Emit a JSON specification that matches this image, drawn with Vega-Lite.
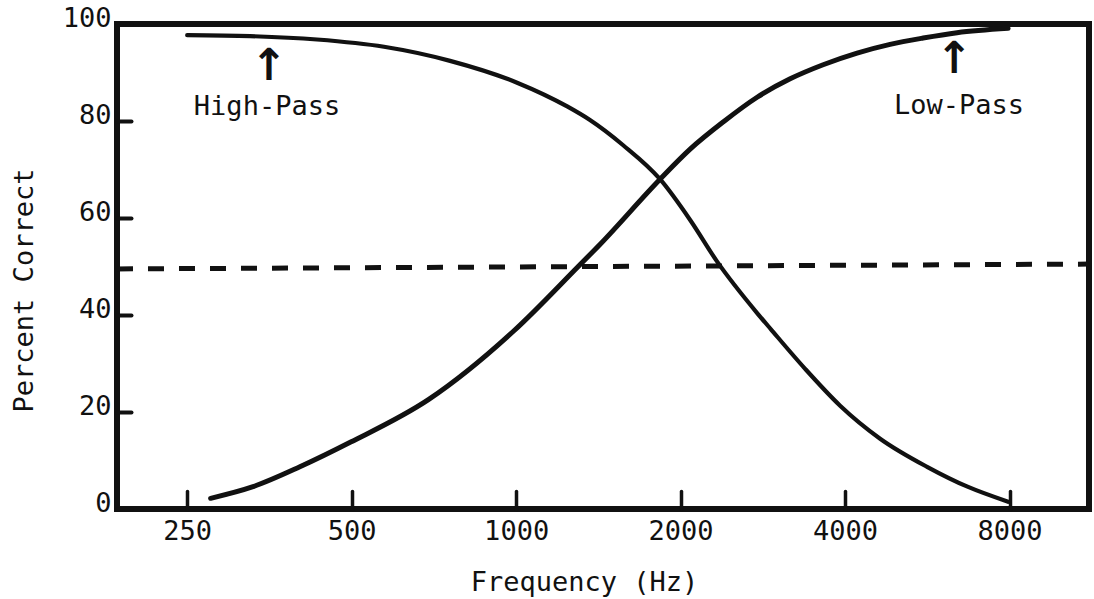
{
  "$schema": "https://vega.github.io/schema/vega-lite/v6.json",
  "autosize": "none",
  "width": 972,
  "height": 485,
  "padding": {"left": 117, "top": 24, "right": 5, "bottom": 90},
  "background": "white",
  "config": {
    "view": {"stroke": "#111", "strokeWidth": 6},
    "font": "DejaVu Sans Mono",
    "axis": {
      "domain": false,
      "grid": false,
      "labelFont": "DejaVu Sans Mono",
      "labelFontSize": 27,
      "labelColor": "#111",
      "titleFont": "DejaVu Sans Mono",
      "titleFontSize": 27,
      "titleFontWeight": "normal",
      "titleColor": "#111",
      "tickColor": "#111",
      "tickCap": "round"
    }
  },
  "datasets": {
    "curves": [
      {"series": "Low-Pass", "freq": 276, "pct": 2.2},
      {"series": "Low-Pass", "freq": 330, "pct": 4.6},
      {"series": "Low-Pass", "freq": 402, "pct": 8.7},
      {"series": "Low-Pass", "freq": 498, "pct": 13.8},
      {"series": "Low-Pass", "freq": 692, "pct": 22.6},
      {"series": "Low-Pass", "freq": 992, "pct": 36.8},
      {"series": "Low-Pass", "freq": 1299, "pct": 50.0},
      {"series": "Low-Pass", "freq": 1425, "pct": 54.6},
      {"series": "Low-Pass", "freq": 1834, "pct": 68.0},
      {"series": "Low-Pass", "freq": 2082, "pct": 74.2},
      {"series": "Low-Pass", "freq": 2393, "pct": 79.8},
      {"series": "Low-Pass", "freq": 2761, "pct": 84.9},
      {"series": "Low-Pass", "freq": 3173, "pct": 88.7},
      {"series": "Low-Pass", "freq": 3646, "pct": 91.6},
      {"series": "Low-Pass", "freq": 4207, "pct": 94.0},
      {"series": "Low-Pass", "freq": 4835, "pct": 95.8},
      {"series": "Low-Pass", "freq": 5557, "pct": 97.1},
      {"series": "Low-Pass", "freq": 6412, "pct": 98.2},
      {"series": "Low-Pass", "freq": 7950, "pct": 99.1},
      {"series": "High-Pass", "freq": 250, "pct": 97.7},
      {"series": "High-Pass", "freq": 326, "pct": 97.5},
      {"series": "High-Pass", "freq": 432, "pct": 96.8},
      {"series": "High-Pass", "freq": 573, "pct": 95.3},
      {"series": "High-Pass", "freq": 757, "pct": 92.4},
      {"series": "High-Pass", "freq": 1004, "pct": 87.9},
      {"series": "High-Pass", "freq": 1240, "pct": 83.0},
      {"series": "High-Pass", "freq": 1365, "pct": 80.2},
      {"series": "High-Pass", "freq": 1570, "pct": 75.0},
      {"series": "High-Pass", "freq": 1834, "pct": 68.0},
      {"series": "High-Pass", "freq": 2082, "pct": 59.6},
      {"series": "High-Pass", "freq": 2333, "pct": 51.0},
      {"series": "High-Pass", "freq": 2761, "pct": 40.4},
      {"series": "High-Pass", "freq": 2929, "pct": 37.0},
      {"series": "High-Pass", "freq": 3380, "pct": 28.9},
      {"series": "High-Pass", "freq": 3917, "pct": 21.3},
      {"series": "High-Pass", "freq": 4636, "pct": 14.5},
      {"series": "High-Pass", "freq": 5650, "pct": 8.7},
      {"series": "High-Pass", "freq": 6700, "pct": 4.6},
      {"series": "High-Pass", "freq": 7950, "pct": 1.5}
    ],
    "criterion": [
      {"freq": 186, "pct": 49.5},
      {"freq": 11180, "pct": 50.5}
    ],
    "labels": [
      {"series": "High-Pass", "freq": 350, "pct": 81.2, "arrowFreq": 353, "arrowPct": 91.2},
      {"series": "Low-Pass", "freq": 6467, "pct": 81.4, "arrowFreq": 6332, "arrowPct": 92.6}
    ]
  },
  "layer": [
    {
      "data": {"name": "criterion"},
      "mark": {"type": "line", "color": "#111", "strokeWidth": 5, "strokeDash": [16, 15], "clip": true},
      "encoding": {
        "x": {
          "field": "freq", "type": "quantitative",
          "scale": {"type": "log", "base": 2, "domain": [186, 11180], "nice": false, "zero": false},
          "axis": {
            "values": [250, 500, 1000, 2000, 4000, 8000],
            "format": "d",
            "tickSize": -18,
            "tickWidth": 3.5,
            "labelPadding": 27,
            "title": "Frequency (Hz)",
            "titleX": 467,
            "titleY": 81,
            "titleBaseline": "alphabetic",
            "titleAnchor": "middle"
          }
        },
        "y": {
          "field": "pct", "type": "quantitative",
          "scale": {"domain": [0, 100], "nice": false},
          "axis": {
            "values": [0, 20, 40, 60, 80, 100],
            "tickSize": -14,
            "tickWidth": 4,
            "labelPadding": 20,
            "labelOffset": -6,
            "title": "Percent Correct",
            "titleX": -85,
            "titleY": 266,
            "titleAngle": -90,
            "titleBaseline": "alphabetic",
            "titleAnchor": "middle"
          }
        }
      }
    },
    {
      "data": {"name": "curves"},
      "mark": {"type": "line", "color": "#111", "interpolate": "monotone", "strokeCap": "round"},
      "encoding": {
        "x": {"field": "freq", "type": "quantitative"},
        "y": {"field": "pct", "type": "quantitative"},
        "detail": {"field": "series"},
        "strokeWidth": {"field": "series", "type": "nominal", "scale": {"domain": ["High-Pass", "Low-Pass"], "range": [4.2, 5]}, "legend": null}
      }
    },
    {
      "data": {"name": "labels"},
      "mark": {"type": "text", "font": "DejaVu Sans Mono", "fontSize": 27, "color": "#111", "align": "center", "baseline": "alphabetic"},
      "encoding": {
        "x": {"field": "freq", "type": "quantitative"},
        "y": {"field": "pct", "type": "quantitative"},
        "text": {"field": "series"}
      }
    },
    {
      "data": {"name": "labels"},
      "mark": {"type": "text", "font": "DejaVu Sans", "fontSize": 44, "fontWeight": "bold", "color": "#111", "align": "center", "baseline": "middle", "text": "↑"},
      "encoding": {
        "x": {"field": "arrowFreq", "type": "quantitative"},
        "y": {"field": "arrowPct", "type": "quantitative"}
      }
    }
  ]
}
